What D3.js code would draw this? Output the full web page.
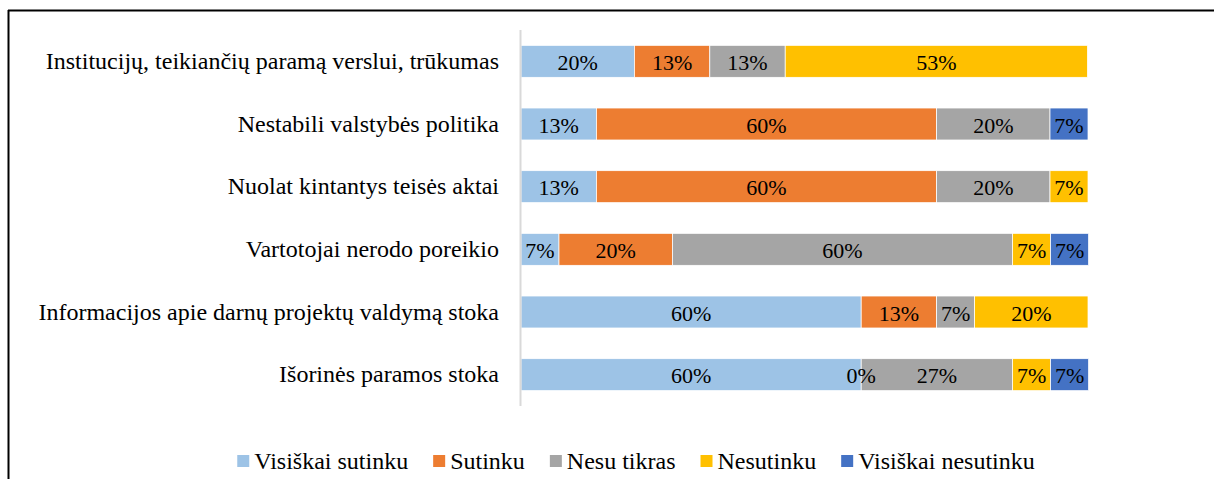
<!DOCTYPE html>
<html>
<head>
<meta charset="utf-8">
<script src="https://cdn.jsdelivr.net/npm/d3@7"></script>
<style>
	body { margin: 0; background: #fff; }
</style>
</head>
<body>
<div id="chart"></div>
<script>
// categories, top to bottom
const categories = [
	'Institucijų, teikiančių paramą verslui, trūkumas',
	'Nestabili valstybės politika',
	'Nuolat kintantys teisės aktai',
	'Vartotojai nerodo poreikio',
	'Informacijos apie darnų projektų valdymą stoka',
	'Išorinės paramos stoka',
];
const seriesNames = ['Visiškai sutinku', 'Sutinku', 'Nesu tikras', 'Nesutinku', 'Visiškai nesutinku'];
const seriesColors = ['#9DC3E6', '#ED7D31', '#A5A5A5', '#FFC000', '#4472C4'];

// percentages per series, one value per category (null = no value)
const visiskaiSutinku = [20, 13.3, 13.3, 6.7, 60, 60];
const sutinku = [13.3, 60, 60, 20, 13.3, 0];
const nesuTikras = [13.3, 20, 20, 60, 6.7, 26.7];
const nesutinku = [53.3, null, 6.7, 6.7, 20, 6.7];
const visiskaiNesutinku = [null, 6.7, null, 6.7, null, 6.7];

const xTicks = [0, 100];

(() => {
	const width = 1214;
	const height = 479;
	const font = "'Liberation Serif', 'Times New Roman', serif";
	const seriesValues = [visiskaiSutinku, sutinku, nesuTikras, nesutinku, visiskaiNesutinku];

	const rows = categories.map((c, i) => {
		const row = { cat: c };
		seriesNames.forEach((s, j) => { row[s] = seriesValues[j][i]; });
		return row;
	});

	const svg = d3.select('#chart').append('svg')
		.attr('width', width)
		.attr('height', height)
		.style('display', 'block')
		.style('font-family', font);

	// frame (top and left edges visible)
	svg.append('line')
		.attr('x1', 8).attr('x2', width).attr('y1', 10.5).attr('y2', 10.5)
		.style('stroke', '#000').style('stroke-width', 2);
	svg.append('line')
		.attr('x1', 8.5).attr('x2', 8.5).attr('y1', 10).attr('y2', height)
		.style('stroke', '#000').style('stroke-width', 2);

	const x = d3.scaleLinear()
		.domain(d3.extent(xTicks))
		.range([521, 1088]);
	const y = d3.scaleBand()
		.domain(categories)
		.range([30, 406])
		.paddingInner(0.49)
		.paddingOuter(0.245);
	const color = d3.scaleOrdinal()
		.domain(seriesNames)
		.range(seriesColors);

	const stack = d3.stack()
		.keys(seriesNames)
		.value((d, k) => d[k] || 0);
	const stacked = stack(rows);

	const barG = svg.append('g');
	const layers = barG.selectAll('g')
		.data(stacked)
		.enter()
		.append('g')
			.style('fill', d => color(d.key));

	layers.selectAll('rect')
		.data(d => d.filter(p => p.data[d.key] !== null && p[1] > p[0]))
		.enter()
		.append('rect')
			.attr('x', d => x(d[0]))
			.attr('y', d => y(d.data.cat))
			.attr('width', d => x(d[1]) - x(d[0]))
			.attr('height', y.bandwidth())
			.style('stroke', '#fff')
			.style('stroke-width', 0.75);

	// vertical axis line
	svg.append('line')
		.attr('x1', x(0) - 0.5).attr('x2', x(0) - 0.5)
		.attr('y1', y.range()[0]).attr('y2', y.range()[1])
		.style('stroke', '#D9D9D9')
		.style('stroke-width', 2);

	// value labels
	const labelG = svg.append('g');
	stacked.forEach(layer => {
		labelG.selectAll(null)
			.data(layer.filter(p => p.data[layer.key] !== null))
			.enter()
			.append('text')
				.attr('x', d => x((d[0] + d[1]) / 2))
				.attr('y', d => y(d.data.cat) + y.bandwidth() / 2)
				.attr('dy', '0.4em')
				.style('text-anchor', 'middle')
				.style('font-family', font)
				.style('font-size', '22px')
				.style('fill', '#000')
				.text(d => `${Math.round(d.data[layer.key])}%`);
	});

	// category labels
	const yAxis = d3.axisLeft(y)
		.tickSize(0)
		.tickPadding(22);
	const yAxisG = svg.append('g')
		.attr('transform', `translate(${x(0)}, 0)`)
		.call(yAxis);
	yAxisG.select('.domain').remove();
	yAxisG.selectAll('text')
		.style('font-family', font)
		.style('font-size', '24px')
		.style('fill', '#000');

	// legend
	const legendG = svg.append('g');
	const items = legendG.selectAll('g')
		.data(seriesNames)
		.enter()
		.append('g');
	items.append('rect')
		.attr('width', 12)
		.attr('height', 12)
		.attr('y', 455)
		.style('fill', d => color(d));
	items.append('text')
		.attr('x', 17)
		.attr('y', 468.5)
		.style('font-family', font)
		.style('font-size', '24px')
		.style('fill', '#000')
		.text(d => d);

	const gap = 25;
	let offset = 0;
	const widths = [];
	items.each(function() {
		widths.push(17 + d3.select(this).select('text').node().getComputedTextLength());
	});
	const total = d3.sum(widths) + gap * (widths.length - 1);
	const start = 636 - total / 2;
	items.attr('transform', (d, i) => {
		const t = `translate(${start + offset}, 0)`;
		offset += widths[i] + gap;
		return t;
	});
})();
</script>
</body>
</html>
